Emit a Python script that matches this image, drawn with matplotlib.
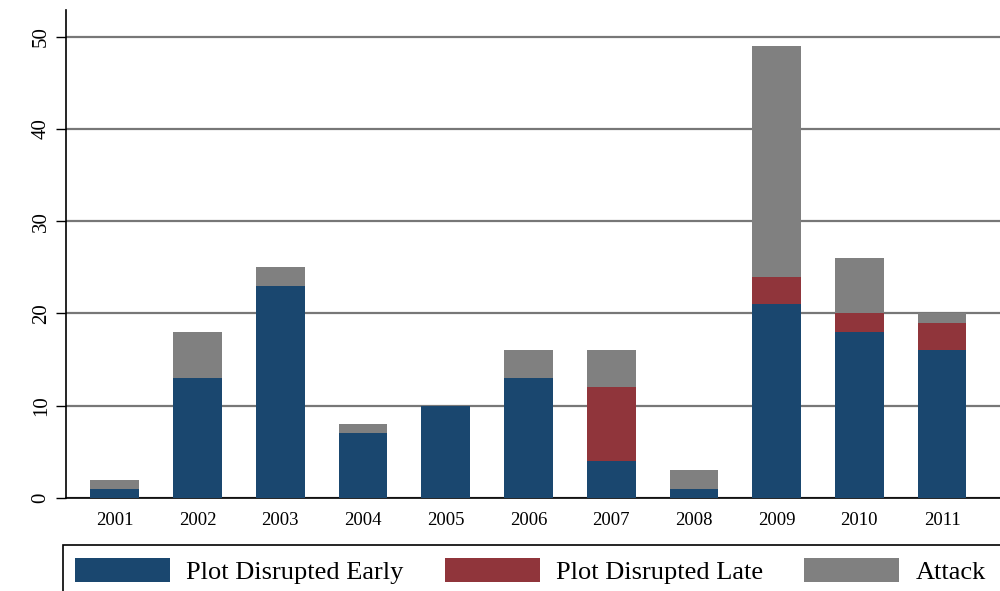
import matplotlib
matplotlib.use("Agg")
import matplotlib.pyplot as plt
from matplotlib.patches import Rectangle
import numpy as np

years = ["2001", "2002", "2003", "2004", "2005", "2006",
         "2007", "2008", "2009", "2010", "2011"]
early = [1, 13, 23, 7, 10, 13, 4, 1, 21, 18, 16]
late = [0, 0, 0, 0, 0, 0, 8, 0, 3, 2, 3]
attack = [1, 5, 2, 1, 0, 3, 4, 2, 25, 6, 1]
labels = ["Plot Disrupted Early", "Plot Disrupted Late", "Attack"]
colors = ["#1a476f", "#90353b", "#808080"]

plt.rcParams["font.family"] = ["Liberation Serif", "DejaVu Serif"]

fig = plt.figure(figsize=(10, 5.91), dpi=100)
ax = fig.add_axes([0.066, 0.1574, 0.934, 0.826])

x = np.arange(len(years))
early = np.array(early)
late = np.array(late)
attack = np.array(attack)
w = 0.59
b1 = ax.bar(x, early, w, color=colors[0], label=labels[0], zorder=3)
b2 = ax.bar(x, late, w, bottom=early, color=colors[1], label=labels[1], zorder=3)
b3 = ax.bar(x, attack, w, bottom=early + late, color=colors[2], label=labels[2], zorder=3)

ax.set_xlim(-0.59, 10.7)
ax.set_ylim(0, 52.9)
ax.set_yticks([0, 10, 20, 30, 40, 50])
ax.set_xticks(x)
ax.set_xticklabels(years, fontsize=13.5)
ax.tick_params(axis="x", length=0, pad=10)
ax.tick_params(axis="y", length=7, width=1, labelsize=15, pad=4)
for t in ax.get_yticklabels():
    t.set_rotation(90)
    t.set_va("center")
ax.yaxis.grid(True, color="#777777", linewidth=1.6, zorder=0)
for s in ["top", "right"]:
    ax.spines[s].set_visible(False)
ax.spines["left"].set_linewidth(1.2)
ax.spines["bottom"].set_linewidth(1.2)

# legend box runs off the right and bottom edges
fig.patches.append(Rectangle((0.063, -0.02), 0.96, 1 - 545 / 591 + 0.02,
                             transform=fig.transFigure, fill=False,
                             edgecolor="black", linewidth=1.2))
leg = fig.legend(handles=[b1, b2, b3], labels=labels, loc="center left",
                 bbox_to_anchor=(0.075, 0.034), ncol=3, fontsize=19,
                 handlelength=3.6, handleheight=1.0, handletextpad=0.62,
                 columnspacing=1.55, borderaxespad=0, borderpad=0,
                 frameon=False)

fig.savefig("out.png", dpi=100)
